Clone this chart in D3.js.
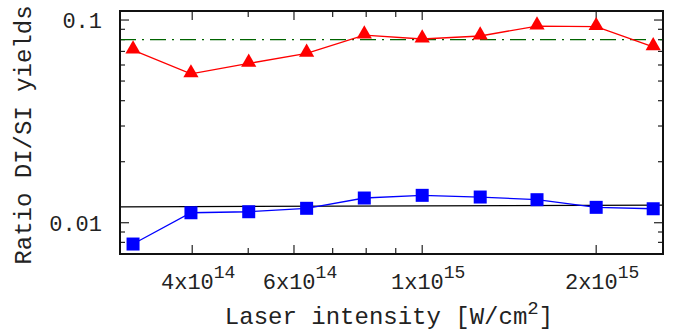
<!DOCTYPE html>
<html lang="en">
<head>
<meta charset="utf-8">
<title>Ratio DI/SI yields</title>
<script src="https://d3js.org/d3.v7.min.js"></script>
<style>
  body { margin: 0; background: #fff; }
  text { font-family: "Liberation Mono", "Courier New", monospace; fill: #222; }
</style>
</head>
<body>
<script>
// laser intensity (W/cm^2), log-spaced
var intensity = [3.16e14, 3.98e14, 5.01e14, 6.31e14, 7.94e14, 1.0e15, 1.26e15, 1.58e15, 2.0e15, 2.51e15];
// ratio of double to single ionization yields
var ratioRed  = [0.0711, 0.0542, 0.0611, 0.0685, 0.0843, 0.0806, 0.0834, 0.0934, 0.0927, 0.0738];
var ratioBlue = [0.00785, 0.0112, 0.01133, 0.01178, 0.01324, 0.01365, 0.01339, 0.01299, 0.01191, 0.01172];
// reference lines
var greenLevel = 0.08;
var blackFitX = [3e14, 2.61e15];
var blackFitY = [0.01198, 0.01222];

var xMajor = [4e14, 6e14, 1e15, 2e15];
var xMajorLabel = [["4x10", "14"], ["6x10", "14"], ["1x10", "15"], ["2x10", "15"]];
var xMinor = [5e14, 7e14, 8e14, 9e14];
var yMajor = [0.01, 0.1];
var yMajorLabel = ["0.01", "0.1"];
var yMinor = [0.008, 0.009, 0.02, 0.03, 0.04, 0.05, 0.06, 0.07, 0.08, 0.09];

var w = 674, h = 335;
var margin = {left: 120, right: 11, top: 11, bottom: 81};

var svg = d3.select("body").append("svg").attr("width", w).attr("height", h);

var x = d3.scaleLog().domain([3e14, 2.61e15]).range([margin.left, w - margin.right]);
var y = d3.scaleLog().domain([0.00701, 0.1108]).range([h - margin.bottom, margin.top]);

var x0 = x.range()[0], x1 = x.range()[1], y0 = y.range()[0], y1 = y.range()[1];

// ticks (mirrored on all sides)
var tk = svg.append("g").attr("stroke", "#222").attr("stroke-width", 1.2);
function xtick(v, len) {
  tk.append("line").attr("x1", x(v)).attr("x2", x(v)).attr("y1", y0).attr("y2", y0 - len);
  tk.append("line").attr("x1", x(v)).attr("x2", x(v)).attr("y1", y1).attr("y2", y1 + len);
}
function ytick(v, len) {
  tk.append("line").attr("y1", y(v)).attr("y2", y(v)).attr("x1", x0).attr("x2", x0 + len);
  tk.append("line").attr("y1", y(v)).attr("y2", y(v)).attr("x1", x1).attr("x2", x1 - len);
}
xMajor.forEach(function(v){ xtick(v, 9); });
xMinor.forEach(function(v){ xtick(v, 6); });
yMajor.forEach(function(v){ ytick(v, 9); });
yMinor.forEach(function(v){ ytick(v, 5); });

// tick labels
xMajor.forEach(function(v, i){
  var t = svg.append("text").attr("x", x(v) + 6).attr("y", 289)
    .attr("text-anchor", "middle").style("font-size", "22px");
  t.append("tspan").text(xMajorLabel[i][0]);
  t.append("tspan").attr("dy", -11).style("font-size", "18px").text(xMajorLabel[i][1]);
});
yMajor.forEach(function(v, i){
  svg.append("text").attr("x", 102).attr("y", y(v) + 8)
    .attr("text-anchor", "end").style("font-size", "22px").text(yMajorLabel[i]);
});

// reference lines
svg.append("line")
  .attr("x1", x0).attr("x2", x1).attr("y1", y(greenLevel)).attr("y2", y(greenLevel))
  .attr("stroke", "#006400").attr("stroke-width", 1.4).attr("stroke-dasharray", "16,6,2,6");

svg.append("line")
  .attr("x1", x(blackFitX[0])).attr("x2", x(blackFitX[1]))
  .attr("y1", y(blackFitY[0])).attr("y2", y(blackFitY[1]))
  .attr("stroke", "#000").attr("stroke-width", 1.3);

// series
var line = d3.line().x(function(d){ return x(d[0]); }).y(function(d){ return y(d[1]); });
var red = d3.zip(intensity, ratioRed);
var blue = d3.zip(intensity, ratioBlue);

svg.append("path").datum(red).attr("d", line).attr("fill", "none")
  .attr("stroke", "#ff0000").attr("stroke-width", 1.3);
svg.append("path").datum(blue).attr("d", line).attr("fill", "none")
  .attr("stroke", "#0000ff").attr("stroke-width", 1.3);

var tri = d3.symbol().type(d3.symbolTriangle).size(100);
svg.selectAll(".tri").data(red).enter().append("path")
  .attr("d", tri)
  .attr("transform", function(d){ return "translate(" + x(d[0]) + "," + (y(d[1]) - 1) + ")"; })
  .attr("fill", "#ff0000");

svg.selectAll(".sq").data(blue).enter().append("rect")
  .attr("x", function(d){ return x(d[0]) - 6.5; })
  .attr("y", function(d){ return y(d[1]) - 6.5; })
  .attr("width", 13).attr("height", 13)
  .attr("fill", "#0000ff");

// frame
svg.append("rect").attr("x", x0).attr("y", y1).attr("width", x1 - x0).attr("height", y0 - y1)
  .attr("fill", "none").attr("stroke", "#111").attr("stroke-width", 2);

// axis titles
var xt = svg.append("text").attr("x", 389).attr("y", 324)
  .attr("text-anchor", "middle").style("font-size", "24px");
xt.append("tspan").text("Laser intensity [W/cm");
xt.append("tspan").attr("dy", -10).style("font-size", "19px").text("2");
xt.append("tspan").attr("dy", 10).text("]");

svg.append("text").attr("transform", "translate(31,135) rotate(-90)")
  .attr("text-anchor", "middle").style("font-size", "24px").text("Ratio DI/SI yields");
</script>
</body>
</html>
